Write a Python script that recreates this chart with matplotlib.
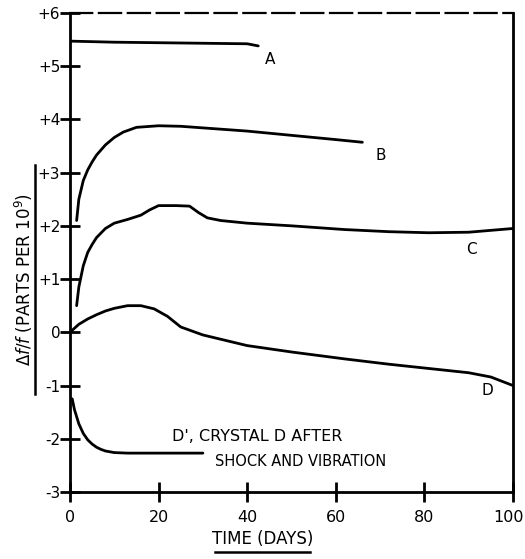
import matplotlib.pyplot as plt
from matplotlib.lines import Line2D
from matplotlib.transforms import ScaledTranslation

# curve data (days, parts per 10^9)
a_days = [0, 5, 10, 20, 30, 40, 42.5]
a_vals = [5.47, 5.46, 5.45, 5.44, 5.43, 5.42, 5.38]

b_days = [1.5, 2, 3, 4, 5, 6, 8, 10, 12, 15, 20, 25, 30, 40, 50, 60, 66]
b_vals = [2.1, 2.5, 2.85, 3.05, 3.2, 3.33, 3.52, 3.66, 3.76, 3.85, 3.88, 3.87, 3.84, 3.78, 3.7, 3.62, 3.57]

c_days = [1.5, 2, 3, 4, 5, 6, 8, 10, 13, 16, 18, 20, 24, 27, 29, 31, 34, 40, 50, 62, 72, 81, 90, 100]
c_vals = [0.5, 0.85, 1.25, 1.5, 1.65, 1.78, 1.95, 2.05, 2.12, 2.2, 2.3, 2.38, 2.38, 2.37, 2.25, 2.15, 2.1, 2.05, 2.0, 1.93, 1.89, 1.87, 1.88, 1.95]

d_days = [0, 2, 4, 6, 8, 10, 13, 16, 19, 22, 25, 30, 35, 40, 50, 62, 72, 81, 90, 95, 100]
d_vals = [0.0, 0.15, 0.25, 0.33, 0.4, 0.45, 0.5, 0.5, 0.44, 0.3, 0.1, -0.05, -0.15, -0.25, -0.37, -0.5, -0.6, -0.68, -0.76, -0.84, -1.0]

dp_days = [0.5, 1, 2, 3, 4, 5, 6, 7, 8, 10, 13, 20, 30]
dp_vals = [-1.25, -1.45, -1.72, -1.9, -2.02, -2.1, -2.16, -2.2, -2.23, -2.26, -2.27, -2.27, -2.27]

labels = ['A', 'B', 'C', 'D']
label_pos = [(44, 5.12), (69, 3.33), (89.5, 1.55), (93, -1.1)]

yticks = [6, 5, 4, 3, 2, 1, 0, -1, -2, -3]
ytick_labels = ['+6', '+5', '+4', '+3', '+2', '+1', '0', '-1', '-2', '-3']
xticks = [0, 20, 40, 60, 80, 100]

plt.rcParams['font.family'] = ['DejaVu Sans']
fig = plt.figure(figsize=(5.25, 5.59), dpi=100)
ax = fig.add_axes([0.1333, 0.1199, 0.8438, 0.857])

for xs, ys in [(a_days, a_vals), (b_days, b_vals), (c_days, c_vals),
               (d_days, d_vals), (dp_days, dp_vals)]:
    ax.plot(xs, ys, color='black', lw=2.0, solid_capstyle='round')

for lab, (x, y) in zip(labels, label_pos):
    ax.text(x, y, lab, fontsize=11, ha='left', va='center')

ax.text(23, -1.95, "D', CRYSTAL D AFTER", fontsize=11.5, va='center')
ax.text(32.7, -2.42, 'SHOCK AND VIBRATION', fontsize=10.5, va='center')

ax.set_xlim(0, 100)
ax.set_ylim(-3, 6)
ax.set_xticks(xticks)
ax.set_yticks(yticks)
ax.set_yticklabels(ytick_labels)
ax.tick_params(axis='both', direction='inout', length=14, width=2)
ax.tick_params(axis='x', pad=6, labelsize=11.5)
ax.tick_params(axis='y', pad=0, labelsize=11)

# last x label sits right at the page edge, nudge it in a little
last = ax.get_xticklabels()[-1]
last.set_transform(last.get_transform() + ScaledTranslation(-4 / 100, 0, fig.dpi_scale_trans))

for side in ['left', 'bottom', 'right']:
    ax.spines[side].set_linewidth(2)
ax.spines['top'].set_linewidth(1.6)
ax.spines['top'].set_linestyle((0, (10, 3)))

# underlined axis titles, like the hand lettering
fig.text(0.046, 0.5, r'$\Delta f/f$ (PARTS PER 10$^9$)', rotation=90,
         fontsize=12, ha='center', va='center')
fig.add_artist(Line2D([0.067, 0.067], [0.295, 0.705], color='black', lw=1.8))
fig.text(0.5, 0.035, 'TIME (DAYS)', fontsize=12, ha='center', va='center')
fig.add_artist(Line2D([0.41, 0.59], [0.013, 0.013], color='black', lw=1.8))

fig.savefig('out.png', dpi=100)
